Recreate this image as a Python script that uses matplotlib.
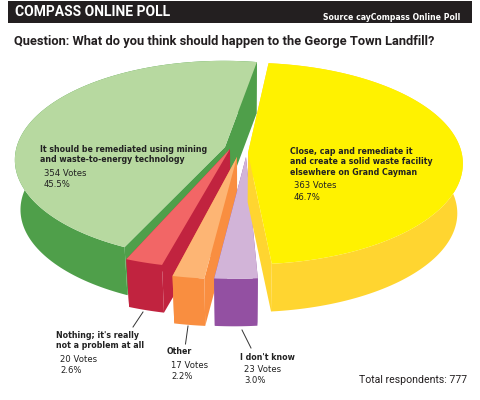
import numpy as np
import matplotlib
matplotlib.use('Agg')
import matplotlib.pyplot as plt
from matplotlib.patches import Polygon, Rectangle

# poll results, clockwise from the top of the pie
votes = [363, 23, 17, 20, 354]
percents = ['46.7%', '3.0%', '2.2%', '2.6%', '45.5%']
answers = ['Close, cap and remediate it\nand create a solid waste facility\nelsewhere on Grand Cayman',
           "I don't know",
           'Other',
           "Nothing; it's really\nnot a problem at all",
           'It should be remediated using mining\nand waste-to-energy technology']
total_respondents = 777

top_colors = ['#FFF200', '#D2B4D8', '#FDB574', '#F26666', '#B7D9A0']
side_colors = ['#FFD530', '#9350A2', '#F98E40', '#C1233F', '#4F9F4A']

# every slice is pulled out by hand: disc centre, radii, apex, extra turn
centers = [(248, 154.5), (234, 169), (224.2, 169), (213.7, 158), (223.7, 151)]
radii = [(214, 100), (214, 100), (214, 100), (214, 100), (208, 98.3)]
apexes = [(248, 153), (246, 157), (237, 157), (230, 149), (225, 147)]
turns = [0, 0, 0, 0, -4]
label_pos = [(290, 151), (240, 357), (167, 352), (56, 335), (40, 149)]
value_pos = [(294, 186), (244, 369.5), (171, 365), (60, 359), (44, 173)]

START_ANGLE = 84
TILT = 0.09
NARROW = 'Roboto'


def project(theta, center, radius):
    d = 1 + TILT * np.sin(theta)
    x = center[0] + radius[0] * np.cos(theta) / d
    y = center[1] - radius[1] * np.sin(theta) / d
    return np.column_stack([x, y])


def drop(pts):
    # bottom face of the pie: slightly smaller and 50 px lower
    pts = np.asarray(pts, dtype=float)
    x = 240 + (pts[..., 0] - 240) * 0.975
    y = 150 + (pts[..., 1] - 150) * 0.98 + 50
    return np.stack([x, y], axis=-1)


fig = plt.figure(figsize=(4.8, 4), dpi=100)
ax = fig.add_axes([0, 0, 1, 1])
ax.set_xlim(0, 480)
ax.set_ylim(400, 0)
ax.axis('off')

# angles of the slices, green one gets painted first
sweeps = np.array(votes) / sum(votes) * 360
starts = START_ANGLE - np.concatenate([[0], np.cumsum(sweeps)[:-1]])

for i in [4, 3, 2, 1, 0]:
    a0 = starts[i] + turns[i]
    a1 = a0 - sweeps[i]
    thetas = np.radians(np.linspace(a0, a1, 120))
    arc = project(thetas, centers[i], radii[i])
    apex = np.array(apexes[i], dtype=float)
    low_arc = drop(arc)
    low_apex = drop(apex)

    # outer wall and the two cut faces
    ax.add_patch(Polygon(np.vstack([arc, low_arc[::-1]]), fc=side_colors[i], lw=0))
    for corner, low_corner in [(arc[0], low_arc[0]), (arc[-1], low_arc[-1])]:
        ax.add_patch(Polygon([apex, corner, low_corner, low_apex], fc=side_colors[i], lw=0))
    ax.add_patch(Polygon(np.vstack([apex, arc]), fc=top_colors[i], lw=0))

# leader lines of the small slices
ax.plot([143, 133], [312, 327], color='#333333', lw=0.7)
ax.plot([188, 185.5], [326, 344], color='#333333', lw=0.7)
ax.plot([242, 251], [330, 348], color='#333333', lw=0.7)

for i in range(len(votes)):
    ax.text(label_pos[i][0], label_pos[i][1] - 4.5, answers[i], fontsize=5.7, fontweight='bold',
            color='#222222', va='top', ha='left', linespacing=1.25)
    ax.text(value_pos[i][0], value_pos[i][1] - 4.5, '%d Votes\n%s' % (votes[i], percents[i]),
            fontsize=6.1, color='#222222', va='top', ha='left', linespacing=1.3)

# header
ax.add_patch(Rectangle((8, 1), 464, 22, fc='#231F20', lw=0))
ax.text(15, 11.5, 'COMPASS ONLINE POLL', family=NARROW, fontsize=10, fontweight='bold',
        color='white', va='center', ha='left')
ax.text(460, 17, 'Source cayCompass Online Poll', fontsize=5.6, fontweight='bold',
        color='white', va='center', ha='right')
ax.text(14, 41, 'Question: What do you think should happen to the George Town Landfill?',
        family=NARROW, fontsize=9.3, fontweight='bold', color='#231F20', va='center', ha='left')
ax.text(467, 380, 'Total respondents: %d' % total_respondents, family=NARROW, fontsize=7.6,
        color='#231F20', va='center', ha='right')

fig.savefig('out.png', dpi=100)
